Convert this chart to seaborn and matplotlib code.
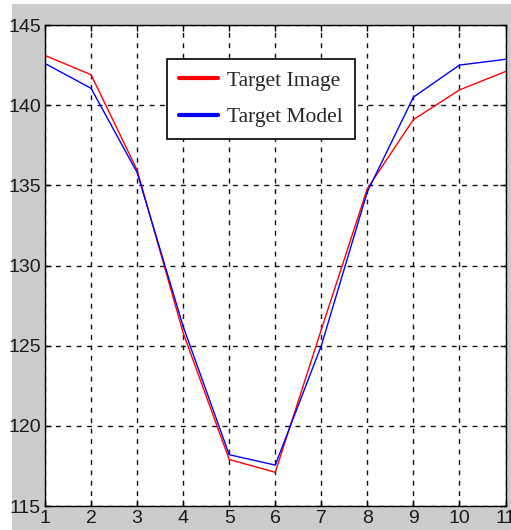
import matplotlib
matplotlib.use("Agg")
import matplotlib.pyplot as plt
from matplotlib.patches import Rectangle
import seaborn as sns
import pandas as pd

frames = [1, 2, 3, 4, 5, 6, 7, 8, 9, 10, 11]
target_image = [143.1, 141.9, 135.95, 125.8, 117.9, 117.1, 126.0, 134.8, 139.1, 140.95, 142.1]
target_model = [142.6, 141.05, 135.8, 126.2, 118.2, 117.55, 125.0, 134.6, 140.5, 142.5, 142.86]
series_names = ["Target Image", "Target Model"]
x_ticks = [1, 2, 3, 4, 5, 6, 7, 8, 9, 10, 11]
y_ticks = [115, 120, 125, 130, 135, 140, 145]

df = pd.DataFrame({
    "frame": frames * 2,
    "value": target_image + target_model,
    "series": [series_names[0]] * len(frames) + [series_names[1]] * len(frames),
})

sns.set_style("white")
plt.rcParams["font.family"] = ["Liberation Sans Narrow", "Liberation Sans", "DejaVu Sans"]

fig = plt.figure(figsize=(5.11, 5.30), dpi=100, facecolor="white")
# grey panel behind the axes
fig.patches.append(Rectangle((12 / 511, 0), 1, 1 - 4 / 530, transform=fig.transFigure,
                             facecolor="#cccccc", edgecolor="none", zorder=-10))

ax = fig.add_axes([45 / 511, 24 / 530, 460.5 / 511, 481 / 530])
ax.set_facecolor("white")

sns.lineplot(data=df, x="frame", y="value", hue="series",
             palette={series_names[0]: "#ff0000", series_names[1]: "#0000ff"},
             linewidth=1.0, ax=ax, legend=False)

ax.set_xlim(1, 11)
ax.set_ylim(115, 145)
ax.set_xticks(x_ticks)
ax.set_yticks(y_ticks)
ax.set_xlabel("")
ax.set_ylabel("")
ax.tick_params(direction="in", length=4, width=1, colors="black", labelsize=14,
               top=True, right=True, bottom=True, left=True, pad=3)
for lbl in ax.get_xticklabels() + ax.get_yticklabels():
    lbl.set_color("#1a1a1a")

ax.grid(True, color="#111111", linestyle=(0, (3.5, 4)), linewidth=1.0)
for s in ax.spines.values():
    s.set_color("black")
    s.set_linewidth(1.0)

handles = [plt.Line2D([], [], color="#ff0000", linewidth=3),
           plt.Line2D([], [], color="#0000ff", linewidth=3)]
leg = ax.legend(handles, series_names, loc="upper left",
                bbox_to_anchor=((167 - 45) / 460.5, (506 - 59) / 481),
                frameon=True, fancybox=False, framealpha=1, edgecolor="black",
                prop={"family": "Liberation Serif", "size": 15.5},
                handlelength=1.8, handletextpad=0.45, borderpad=0.55,
                labelspacing=0.75, borderaxespad=0)
leg.get_frame().set_linewidth(1.2)

fig.savefig("out.png", dpi=100, facecolor=fig.get_facecolor())
